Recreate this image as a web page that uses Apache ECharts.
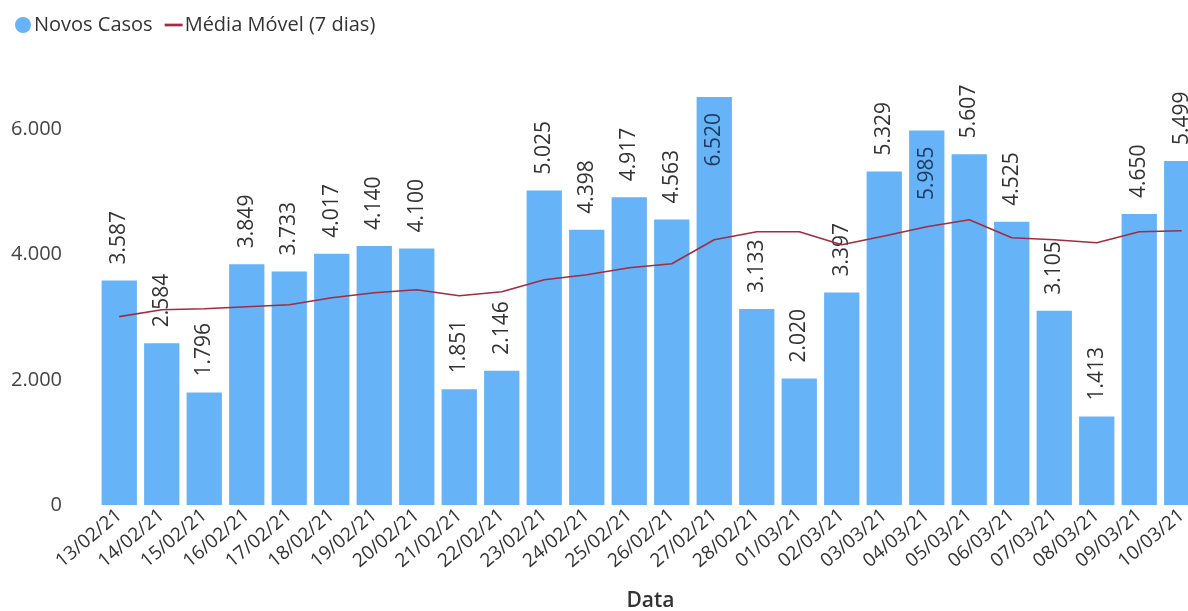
<!DOCTYPE html>
<html>
<head>
<meta charset="utf-8">
<script src="https://cdn.jsdelivr.net/npm/echarts@6/dist/echarts.min.js"></script>
<style>
  html, body { margin: 0; padding: 0; background: #fff; }
  #chart { width: 1188px; height: 611px; }
</style>
</head>
<body>
<div id="chart"></div>
<script>
var dates = ['13/02/21', '14/02/21', '15/02/21', '16/02/21', '17/02/21', '18/02/21', '19/02/21',
  '20/02/21', '21/02/21', '22/02/21', '23/02/21', '24/02/21', '25/02/21', '26/02/21', '27/02/21',
  '28/02/21', '01/03/21', '02/03/21', '03/03/21', '04/03/21', '05/03/21', '06/03/21', '07/03/21',
  '08/03/21', '09/03/21', '10/03/21']
var novosCasos = [3587, 2584, 1796, 3849, 3733, 4017, 4140, 4100, 1851, 2146, 5025, 4398, 4917,
  4563, 6520, 3133, 2020, 3397, 5329, 5985, 5607, 4525, 3105, 1413, 4650, 5499]
var mediaMovel = [3010, 3120, 3136, 3168, 3200, 3312, 3392, 3440, 3344, 3408, 3600, 3680, 3792,
  3856, 4240, 4368, 4368, 4160, 4300, 4448, 4560, 4272, 4240, 4190, 4368, 4384]
// labels that Power BI puts inside the bar
var insideLabels = ['27/02/21', '04/03/21']

var font = '"Segoe UI", "Open Sans", sans-serif'

function fmt(v) {
  return String(v).replace(/\B(?=(\d{3})+(?!\d))/g, '.')
}

var barData = novosCasos.map(function (v, i) {
  var item = { value: v }
  if (insideLabels.indexOf(dates[i]) >= 0) {
    item.label = { position: 'insideTop', align: 'right', distance: 16, color: '#1f3a5f' }
  }
  return item
})

var myChart = echarts.init(document.getElementById('chart'))
var option = {
  animation: false,
  textStyle: { fontFamily: font },
  legend: {
    left: 10,
    top: 10,
    itemGap: 12,
    itemWidth: 18,
    itemHeight: 16,
    textStyle: { fontSize: 20, color: '#333', fontFamily: font, padding: [0, 0, 0, -3] },
    data: [
      { name: 'Novos Casos', icon: 'circle' },
      { name: 'Média Móvel (7 dias)', icon: 'path://M0,0 L20,0 L20,3 L0,3 Z' }
    ]
  },
  grid: { left: 98, right: -15, top: 67, bottom: 106, outerBoundsMode: 'none' },
  xAxis: {
    type: 'category',
    data: dates,
    name: 'Data',
    nameLocation: 'middle',
    nameGap: 86,
    nameTextStyle: { fontSize: 21, color: '#333', fontWeight: 600, fontFamily: font },
    axisLine: { show: false },
    axisTick: { show: false },
    axisLabel: { rotate: 40, fontSize: 19, color: '#333', margin: 8, interval: 0, fontFamily: font }
  },
  yAxis: {
    type: 'value',
    min: 0,
    max: 7000,
    interval: 2000,
    splitLine: { show: false },
    axisLabel: {
      fontSize: 20, color: '#444', margin: 36, showMaxLabel: false, fontFamily: font,
      formatter: function (v) { return fmt(v) }
    }
  },
  series: [{
    name: 'Novos Casos',
    type: 'bar',
    barCategoryGap: '17%',
    itemStyle: { color: '#66b3f7' },
    label: {
      show: true,
      position: 'top',
      rotate: 90,
      align: 'left',
      verticalAlign: 'middle',
      distance: 16,
      fontSize: 21,
      color: '#333',
      fontFamily: font,
      formatter: function (p) { return fmt(p.value) }
    },
    data: barData
  }, {
    name: 'Média Móvel (7 dias)',
    type: 'line',
    symbol: 'none',
    lineStyle: { color: '#a22c40', width: 1.6 },
    itemStyle: { color: '#a22c40' },
    data: mediaMovel
  }]
}
myChart.setOption(option)
</script>
</body>
</html>
